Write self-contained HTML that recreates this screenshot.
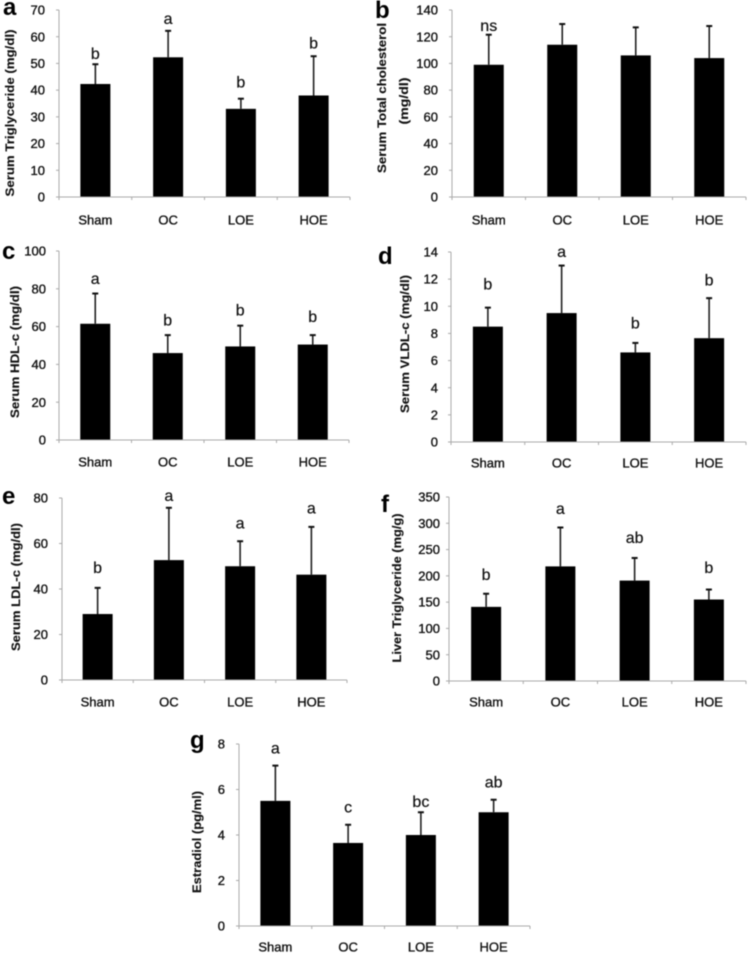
<!DOCTYPE html>
<html lang="en">
<head>
<meta charset="utf-8">
<title>Serum and liver lipid bar charts</title>
<style>
  html, body { margin: 0; padding: 0; background: #fff; }
  #figure { display: block; width: 750px; height: 955px; filter: blur(0.45px); }
  text { font-family: "Liberation Sans", sans-serif; fill: #111; }
  .tick { font-size: 13px; stroke: #111; stroke-width: 0.35px; }
  .title { font-size: 12px; font-weight: bold; stroke: #111; stroke-width: 0.15px; }
  .sig { font-size: 16px; stroke: #111; stroke-width: 0.2px; }
  .panel { font-size: 24px; font-weight: bold; fill: #000; }
</style>
</head>
<body>
<svg id="figure" xmlns="http://www.w3.org/2000/svg" width="750" height="955" viewBox="0 0 750 955"></svg>
<script>
const categories = ['Sham', 'OC', 'LOE', 'HOE'];

const aTicks = [0, 10, 20, 30, 40, 50, 60, 70];
const aMeans = [42.3, 52.3, 33, 38];
const aErrorTops = [49.7, 62.2, 36.8, 52.7];
const aLetters = ['b', 'a', 'b', 'b'];
const aLetterLevels = [53.5, 66.6, 42.7, 57.3];

const bTicks = [0, 20, 40, 60, 80, 100, 120, 140];
const bMeans = [99, 114, 106, 104];
const bErrorTops = [121.5, 129.5, 127, 128];
const bLetters = ['ns', '', '', ''];
const bLetterLevels = [128, 0, 0, 0];

const cTicks = [0, 20, 40, 60, 80, 100];
const cMeans = [61.5, 46, 49.5, 50.5];
const cErrorTops = [77.5, 55.5, 60.5, 55.5];
const cLetters = ['a', 'b', 'b', 'b'];
const cLetterLevels = [85.2, 63, 68.3, 65];

const dTicks = [0, 2, 4, 6, 8, 10, 12, 14];
const dMeans = [8.5, 9.5, 6.6, 7.65];
const dErrorTops = [9.9, 13, 7.3, 10.6];
const dLetters = ['b', 'a', 'b', 'b'];
const dLetterLevels = [11.6, 14, 8.7, 11.9];

const eTicks = [0, 20, 40, 60, 80];
const eMeans = [29, 52.7, 50, 46.3];
const eErrorTops = [40.5, 75.7, 61, 67.3];
const eLetters = ['b', 'a', 'a', 'a'];
const eLetterLevels = [49.2, 80.9, 68.6, 75.2];

const fTicks = [0, 50, 100, 150, 200, 250, 300, 350];
const fMeans = [141, 218, 191, 155];
const fErrorTops = [166, 292, 234, 174];
const fLetters = ['b', 'a', 'ab', 'b'];
const fLetterLevels = [201.6, 327, 272, 215];

const gTicks = [0, 2, 4, 6, 8];
const gMeans = [5.5, 3.65, 4, 5];
const gErrorTops = [7.05, 4.45, 5, 5.55];
const gLetters = ['a', 'c', 'bc', 'ab'];
const gLetterLevels = [7.8, 5.2, 5.45, 6.3];

const svg = document.getElementById('figure');

function make(parent, tag, attrs, content) {
  const el = document.createElementNS('http://www.w3.org/2000/svg', tag);
  for (const k in attrs) el.setAttribute(k, attrs[k]);
  if (content !== undefined) el.textContent = content;
  parent.appendChild(el);
  return el;
}

function drawPanel(p) {
  const g = make(svg, 'g', {});
  
  

  const maxTick = p.ticks[p.ticks.length - 1];
  const yScale = v => p.y0 - (v / maxTick) * (p.y0 - p.yTop);
  const step = (p.xRight - p.x0) / categories.length;
  const xScale = i => p.x0 + (i + 0.5) * step;

  const panelLabel = make(g, 'text', { x: p.letterX, y: p.letterY, class: 'panel' }, p.id);
  
  

  p.titles.forEach(t => {
    const title = make(g, 'text', {
      class: 'title',
      'text-anchor': 'middle',
      textLength: t.length,
      lengthAdjust: 'spacingAndGlyphs',
      transform: 'translate(' + t.x + ',' + t.y + ') rotate(-90)',
      dy: '0.35em'
    }, t.text);
    
    
  });

  p.means.forEach((m, i) => {
    const cx = xScale(i);
    const bar = make(g, 'rect', {
      x: cx - 15, y: yScale(m), width: 30, height: p.y0 - yScale(m), fill: '#000'
    });
    
    

    const top = yScale(p.errorTops[i]);
    const stem = make(g, 'line', {
      x1: cx, x2: cx, y1: yScale(m), y2: top, stroke: '#222', 'stroke-width': 1.6
    });
    
    

    const cap = make(g, 'line', {
      x1: cx - 3, x2: cx + 3, y1: top, y2: top, stroke: '#111', 'stroke-width': 2
    });
    
    

    if (p.letters[i]) {
      const sig = make(g, 'text', {
        x: cx, y: yScale(p.letterLevels[i]), class: 'sig',
        'text-anchor': 'middle', dy: '0.3em'
      }, p.letters[i]);
      
      
    }

    const xLabel = make(g, 'text', {
      x: cx, y: p.labelY, class: 'tick', 'text-anchor': 'middle', dy: '0.35em'
    }, categories[i]);
    
    
  });

  const yAxis = make(g, 'line', {
    x1: p.x0, x2: p.x0, y1: p.yTop, y2: p.y0, stroke: '#aaa', 'stroke-width': 1
  });
  
  

  const xAxis = make(g, 'line', {
    x1: p.x0 - 3, x2: p.xRight, y1: p.y0, y2: p.y0, stroke: '#aaa', 'stroke-width': 1
  });
  
  

  p.ticks.forEach(t => {
    const y = yScale(t);
    const mark = make(g, 'line', {
      x1: p.x0 - 3, x2: p.x0, y1: y, y2: y, stroke: '#aaa', 'stroke-width': 1
    });
    
    

    const label = make(g, 'text', {
      x: p.x0 - p.tickGap, y: y, class: 'tick', 'text-anchor': 'end', dy: '0.35em'
    }, t);
    
    
  });

  categories.concat(['end']).forEach((c, i) => {
    const x = p.x0 + i * step;
    const mark = make(g, 'line', {
      x1: x, x2: x, y1: p.y0, y2: p.y0 + 3, stroke: '#aaa', 'stroke-width': 1
    });
    
    
  });
}

drawPanel({ id: 'a', ticks: aTicks, means: aMeans, errorTops: aErrorTops, letters: aLetters, letterLevels: aLetterLevels,
  x0: 59, xRight: 350, yTop: 10, y0: 197, labelY: 220, letterX: 3, letterY: 15, tickGap: 14,
  titles: [{ text: 'Serum Triglyceride (mg/dl)', x: 10, y: 113, length: 167 }] });
drawPanel({ id: 'b', ticks: bTicks, means: bMeans, errorTops: bErrorTops, letters: bLetters, letterLevels: bLetterLevels,
  x0: 452, xRight: 746, yTop: 10, y0: 197, labelY: 220, letterX: 375, letterY: 18, tickGap: 14,
  titles: [{ text: 'Serum Total cholesterol', x: 382, y: 98, length: 150 }, { text: '(mg/dl)', x: 404, y: 101, length: 47 }] });
drawPanel({ id: 'c', ticks: cTicks, means: cMeans, errorTops: cErrorTops, letters: cLetters, letterLevels: cLetterLevels,
  x0: 59, xRight: 349, yTop: 251, y0: 440, labelY: 462, letterX: 2, letterY: 259, tickGap: 13,
  titles: [{ text: 'Serum HDL-c (mg/dl)', x: 15, y: 352, length: 132 }] });
drawPanel({ id: 'd', ticks: dTicks, means: dMeans, errorTops: dErrorTops, letters: dLetters, letterLevels: dLetterLevels,
  x0: 451, xRight: 746, yTop: 252, y0: 442, labelY: 463, letterX: 378, letterY: 264, tickGap: 13,
  titles: [{ text: 'Serum VLDL-c (mg/dl)', x: 405, y: 344, length: 138 }] });
drawPanel({ id: 'e', ticks: eTicks, means: eMeans, errorTops: eErrorTops, letters: eLetters, letterLevels: eLetterLevels,
  x0: 62, xRight: 347, yTop: 498, y0: 680, labelY: 702, letterX: 2, letterY: 504, tickGap: 14,
  titles: [{ text: 'Serum LDL-c (mg/dl)', x: 16, y: 587, length: 128 }] });
drawPanel({ id: 'f', ticks: fTicks, means: fMeans, errorTops: fErrorTops, letters: fLetters, letterLevels: fLetterLevels,
  x0: 449, xRight: 746, yTop: 497, y0: 681, labelY: 702, letterX: 381, letterY: 512, tickGap: 9,
  titles: [{ text: 'Liver Triglyceride (mg/g)', x: 397, y: 588, length: 149 }] });
drawPanel({ id: 'g', ticks: gTicks, means: gMeans, errorTops: gErrorTops, letters: gLetters, letterLevels: gLetterLevels,
  x0: 239, xRight: 530, yTop: 744, y0: 926, labelY: 947, letterX: 190, letterY: 748, tickGap: 14,
  titles: [{ text: 'Estradiol (pg/ml)', x: 197, y: 842, length: 102 }] });
</script>
</body>
</html>
